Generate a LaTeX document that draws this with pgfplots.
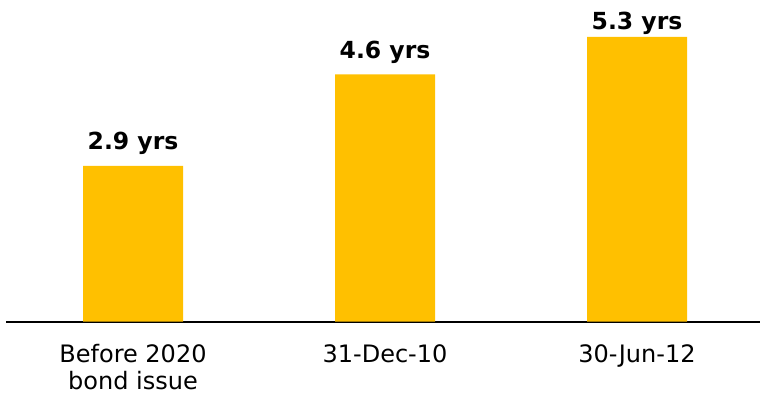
\documentclass[border=0pt]{standalone}
\usepackage{pgfplots}
\pgfplotsset{compat=1.18}
\usepackage{pgfplotstable}
\usepackage{fontspec}
\setmainfont{DejaVu Sans}
\definecolor{gold}{HTML}{FFC000}
\pgfplotstableread{
x y lab off
0 2.9 2.9 16
1 4.6 4.6 16
2 5.3 5.3 7
}\datatab
\begin{document}
\begin{tikzpicture}
\begin{axis}[
  at={(0,0)}, anchor=south west,
  x=252bp, y=53.7bp,
  xmin=-0.504, xmax=2.488,
  ymin=0, ymax=5.987,
  clip=false,
  axis x line=bottom,
  axis y line=none,
  axis line style={-, line width=2bp, black},
  xtick={0,1,2},
  xticklabels={{Before 2020\\bond issue},{31-Dec-10},{30-Jun-12}},
  major tick length=0pt,
  xticklabel style={align=center, anchor=north, yshift=-19.5bp, font=\fontsize{24bp}{27bp}\selectfont},
  ytick=\empty,
  ybar, bar width=100bp,
  point meta=explicit symbolic,
  visualization depends on={\thisrow{off} \as \off},
  nodes near coords={\pgfplotspointmeta\ yrs},
  nodes near coords style={anchor=base, yshift=\off bp, inner sep=0pt, font=\fontsize{23.5bp}{25bp}\selectfont\bfseries, text=black},
]
\addplot[fill=gold, draw=none] table[x=x, y=y, meta=lab] {\datatab};
\end{axis}
\pgfresetboundingbox
\path[use as bounding box] (-6bp,-72.5bp) rectangle (754bp,321.5bp);
\end{tikzpicture}
\end{document}
